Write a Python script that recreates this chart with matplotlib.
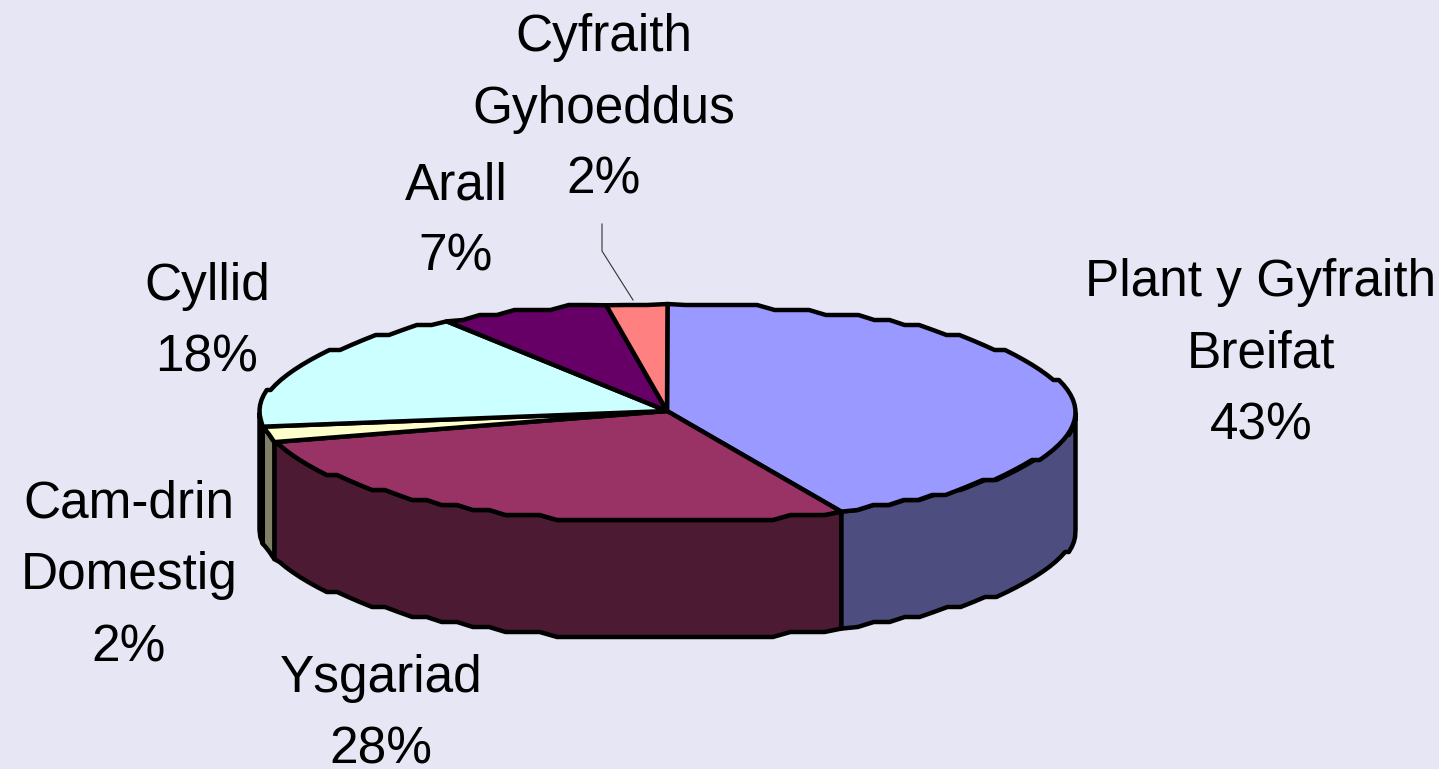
import numpy as np
import matplotlib
matplotlib.use('Agg')
import matplotlib.pyplot as plt

names = ['Plant y Gyfraith\nBreifat', 'Ysgariad', 'Cam-drin\nDomestig', 'Cyllid', 'Arall', 'Cyfraith\nGyhoeddus']
shares = [43.0, 27.7, 2.3, 17.9, 6.7, 2.4]
percent = [43, 28, 2, 18, 7, 2]

top_colors = ['#9999FF', '#993366', '#FFFFCC', '#CCFFFF', '#660066', '#FF8080']
side_colors = ['#4D4D80', '#4D1A33', '#808066', '#668080', '#330033', '#804040']

# centre x and baseline of the first line of each label
label_pos = [(1261, 296), (381, 692), (129, 518), (207, 300), (456, 199), (604, 51)]
line_step = 71.5

apex_x, apex_y = 667, 411
cx, cy, rx, ry, depth = 667.5, 413, 408, 109, 117
snap = 5.0

def rim(a0, a1, drop=0):
    # angles clockwise from the top of the pie, degrees
    t = np.radians(np.linspace(a0, a1, max(2, int(abs(a1 - a0) / 2.5) + 1)))
    x = cx + rx * np.sin(t)
    y = cy - ry * np.cos(t)
    # the source was a coarse bitmap, so the rim goes in small steps
    y = np.round(y / snap) * snap
    y[0] = cy - ry * np.cos(t[0])
    y[-1] = cy - ry * np.cos(t[-1])
    return x, y + drop

plt.rcParams['font.family'] = ['Liberation Sans', 'DejaVu Sans']
fig = plt.figure(figsize=(14.39, 7.69), dpi=100, facecolor='#E6E6F5')
ax = fig.add_axes([0, 0, 1, 1])
ax.set_xlim(0, 1439)
ax.set_ylim(769, 0)
ax.axis('off')

edges = np.concatenate([[0], np.cumsum(shares)]) / sum(shares) * 360
lw = 3.2

# walls first, only the front half of the pie shows one
for i in range(len(shares)):
    a0 = max(edges[i], 90)
    a1 = min(edges[i + 1], 270)
    if a1 <= a0:
        continue
    x, y = rim(a0, a1)
    x2, y2 = rim(a1, a0, depth)
    ax.fill(np.r_[x, x2], np.r_[y, y2], facecolor=side_colors[i], edgecolor='black',
            linewidth=lw, joinstyle='round')

for i in range(len(shares)):
    x, y = rim(edges[i], edges[i + 1])
    ax.fill(np.r_[apex_x, x], np.r_[apex_y, y], facecolor=top_colors[i], edgecolor='black',
            linewidth=lw, joinstyle='round')

# leader for the smallest slice
ax.plot([602, 602, 633], [224, 251, 300], color='#333333', linewidth=0.8)

# one text per line, so the blocks of neighbouring labels do not overlap
for name, pct, pos in zip(names, percent, label_pos):
    lines = name.split('\n') + [str(pct) + '%']
    for k, line in enumerate(lines):
        ax.text(pos[0], pos[1] + k * line_step, line, ha='center', va='baseline',
                fontsize=37, color='black', clip_on=False)

fig.savefig('out.png', dpi=100, facecolor=fig.get_facecolor())
